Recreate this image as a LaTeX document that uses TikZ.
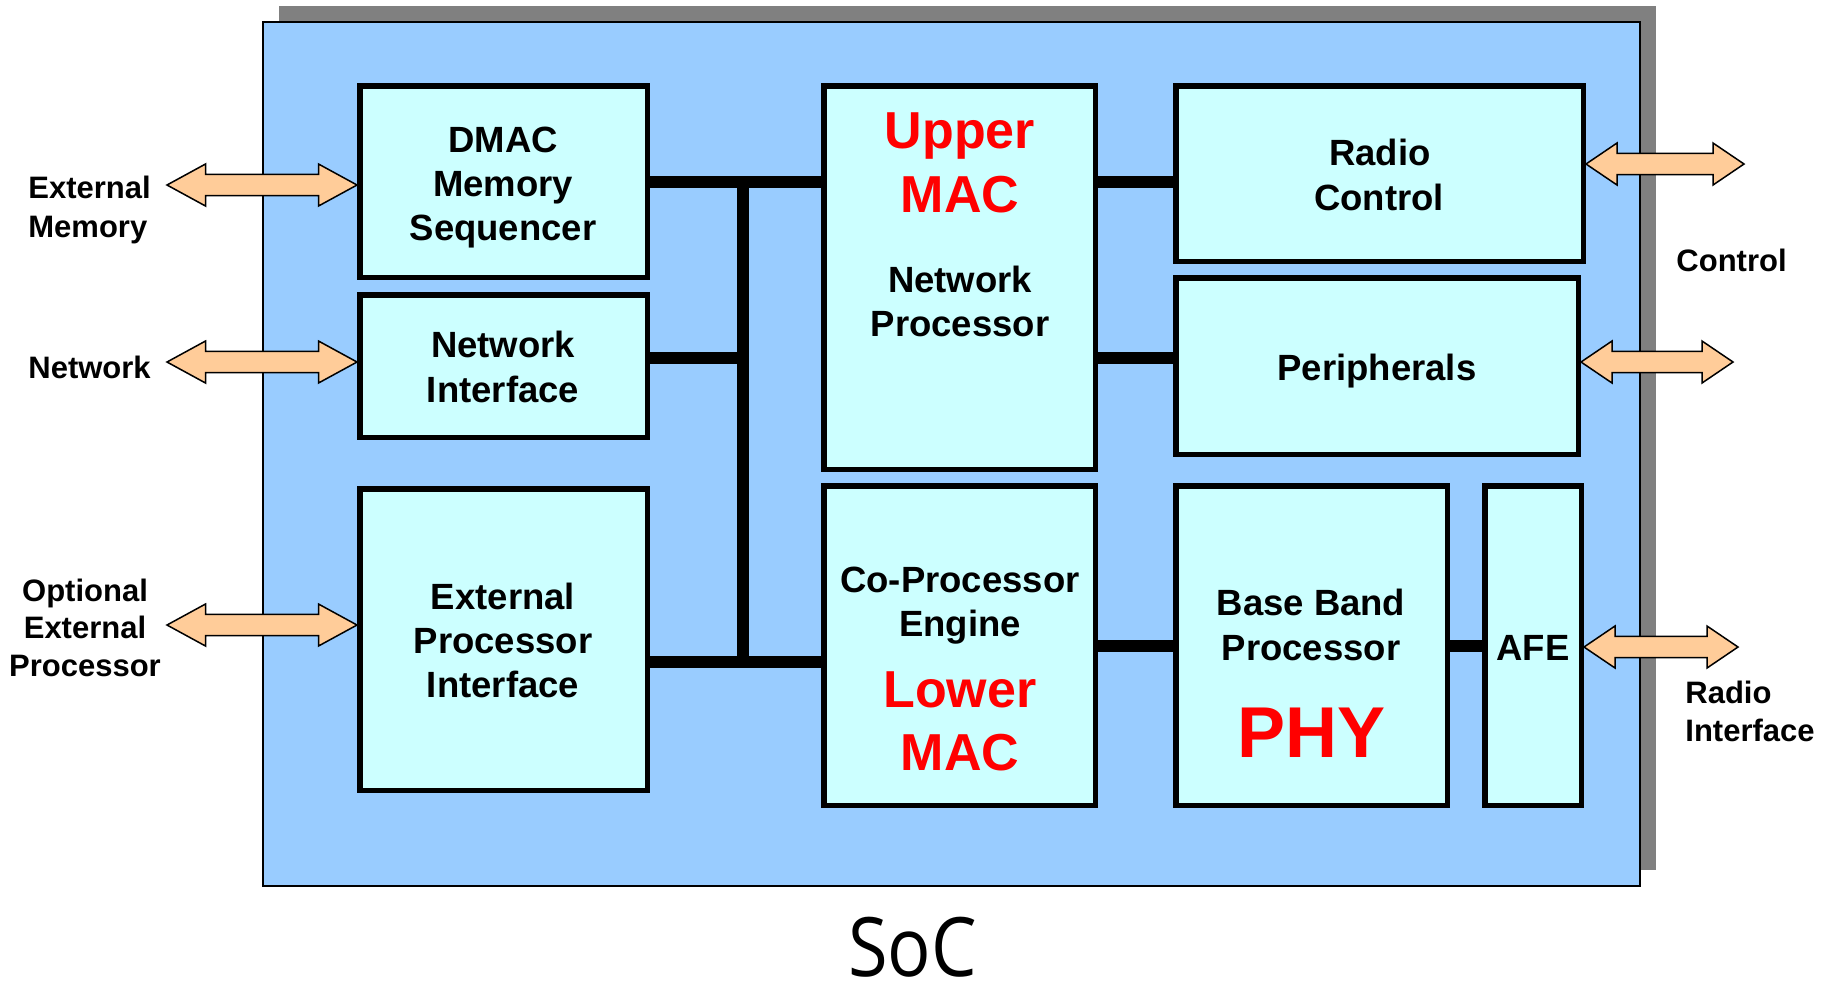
\documentclass[tikz,border=0pt]{standalone}
\usepackage{fontspec}
\setmainfont{Liberation Sans}
\newfontfamily\socfont{Open Sans}
\usetikzlibrary{calc}

\definecolor{socblue}{HTML}{99CCFF}
\definecolor{blockcyan}{HTML}{CCFFFF}
\definecolor{portorange}{HTML}{FFCC99}
\definecolor{shadowgray}{HTML}{808080}
\definecolor{macred}{HTML}{FF0000}

% double-headed port arrow between two points: #1 left tip, #2 right tip, #3 head length
\newcommand\bidir[3]{%
  \path[port] let \p1=(#1), \p2=(#2) in
    (\x1,\y1) -- ({\x1+#3},{\y1+10.5pt}) -- ({\x1+#3},{\y1+5.3pt})
    -- ({\x2-#3},{\y2+5.3pt}) -- ({\x2-#3},{\y2+10.5pt}) -- (\x2,\y2)
    -- ({\x2-#3},{\y2-10.5pt}) -- ({\x2-#3},{\y2-5.3pt})
    -- ({\x1+#3},{\y1-5.3pt}) -- ({\x1+#3},{\y1-10.5pt}) -- cycle;
}

\begin{document}
\begin{tikzpicture}[x=0.5pt,y=-0.5pt,
  block/.style={draw=black, fill=blockcyan, line width=2.75pt, inner sep=0pt},
  bus/.style={line width=6pt},
  lbl/.style={font=\fontsize{18.25pt}{22pt}\selectfont\bfseries, inner sep=0pt, anchor=base},
  redlbl/.style={font=\fontsize{26pt}{30pt}\selectfont\bfseries, text=macred, inner sep=0pt, anchor=base},
  phylbl/.style={font=\fontsize{36pt}{40pt}\selectfont\bfseries, text=macred, inner sep=0pt, anchor=base},
  outlbl/.style={font=\fontsize{15.5pt}{19pt}\selectfont\bfseries, inner sep=0pt},
  port/.style={draw=black, fill=portorange, line width=0.75pt, line join=miter},
]
\useasboundingbox (0,0) rectangle (1829,982);

% chip outline with its shadow
\fill[shadowgray] (279,6) rectangle (1656,870);
\draw[fill=socblue, line width=1pt] (263,22) rectangle (1640,886);

% functional blocks
\node[block, minimum width=143.75pt, minimum height=95.75pt]  (dmac) at (503.5,181.5) {};
\node[block, minimum width=143.75pt, minimum height=71.25pt]  (ni)   at (503.5,366) {};
\node[block, minimum width=143.75pt, minimum height=150.75pt] (epi)  at (503.5,639.5) {};
\node[block, minimum width=135.75pt, minimum height=191.75pt] (umac) at (959.5,277.5) {};
\node[block, minimum width=135.75pt, minimum height=159.75pt] (cpe)  at (959.5,645.5) {};
\node[block, minimum width=203.75pt, minimum height=87.75pt]  (rc)   at (1379.5,173.5) {};
\node[block, minimum width=201.25pt, minimum height=88.25pt]  (per)  at (1377,366) {};
\node[block, minimum width=135.75pt, minimum height=159.75pt] (bb)   at (1311.5,645.5) {};
\node[block, minimum width=48.25pt,  minimum height=159.75pt] (afe)  at (1533,645.5) {};

% block texts
\node[lbl] (dmac-1) at (503,152) {DMAC};
\node[lbl] (dmac-2) at (503,196.5) {Memory};
\node[lbl] (dmac-3) at (503,240) {Sequencer};
\node[lbl] (ni-1) at (503,357) {Network};
\node[lbl] (ni-2) at (503,402) {Interface};
\node[lbl] (epi-1) at (503,609.5) {External};
\node[lbl] (epi-2) at (503,653.5) {Processor};
\node[lbl] (epi-3) at (503,697.5) {Interface};
\node[redlbl] (umac-1) at (960,148) {Upper};
\node[redlbl] (umac-2) at (960,212) {MAC};
\node[lbl] (umac-3) at (960,292) {Network};
\node[lbl] (umac-4) at (960,336) {Processor};
\node[lbl] (cpe-1) at (960,592.5) {Co-Processor};
\node[lbl] (cpe-2) at (960,636) {Engine};
\node[redlbl] (cpe-3) at (960,707) {Lower};
\node[redlbl] (cpe-4) at (960,770.5) {MAC};
\node[lbl] (bb-1) at (1311,615) {Base Band};
\node[lbl] (bb-2) at (1311,660) {Processor};
\node[phylbl] (bb-3) at (1311,757) {PHY};
\node[lbl] (afe-t) at (1533,660) {AFE};
\node[lbl] (rc-1) at (1380,165) {Radio};
\node[lbl] (rc-2) at (1379,210) {Control};
\node[lbl] (per-t) at (1377,380) {Peripherals};

% internal bus
\coordinate (busA) at (743,182);
\coordinate (busB) at (743,358);
\coordinate (busC) at (743,662);
\draw[bus] (dmac.east |- busA) -- (umac.west |- busA);
\draw[bus] (ni.east |- busB) -- (busB);
\draw[bus] (epi.east |- busC) -- (cpe.west |- busC);
\draw[bus] (busA) -- (busC);
\draw[bus] (umac.east |- busA) -- (rc.west |- busA);
\draw[bus] (umac.east |- busB) -- (per.west |- busB);
\draw[bus] (cpe.east) -- (bb.west);
\draw[bus] (bb.east) -- (afe.west);

% external ports
\coordinate (extmem) at (167,185);
\coordinate (netport) at (167,362);
\coordinate (optport) at (167,625);
\coordinate (ctlA) at (1744,164);
\coordinate (ctlB) at (1733,362);
\coordinate (rfport) at (1738,647);
\bidir{extmem}{dmac.west |- extmem}{19.25pt}
\bidir{netport}{ni.west |- netport}{19.25pt}
\bidir{optport}{epi.west |- optport}{19.25pt}
\bidir{rc.east |- ctlA}{ctlA}{15.5pt}
\bidir{per.east |- ctlB}{ctlB}{15.5pt}
\bidir{afe.east |- rfport}{rfport}{15.5pt}

% port labels
\node[outlbl, anchor=base west] (em-1) at (28,198) {External};
\node[outlbl, anchor=base west] (em-2) at (28,237) {Memory};
\node[outlbl, anchor=base west] (net-l) at (28,378) {Network};
\node[outlbl, anchor=base] (opt-1) at (85,601.5) {Optional};
\node[outlbl, anchor=base] (opt-2) at (85,638.5) {External};
\node[outlbl, anchor=base] (opt-3) at (85,676.5) {Processor};
\node[outlbl, anchor=base west] (ctl-l) at (1676,271) {Control};
\node[outlbl, anchor=base west] (rf-1) at (1685,703) {Radio};
\node[outlbl, anchor=base west] (rf-2) at (1685,741.5) {Interface};

% chip title
\node[inner sep=0pt, anchor=base, text depth=0pt, font=\socfont\fontsize{41pt}{45pt}\selectfont] (soc) at (912.5,976) {\scalebox{0.88}[1]{SoC}};
\end{tikzpicture}
\end{document}
